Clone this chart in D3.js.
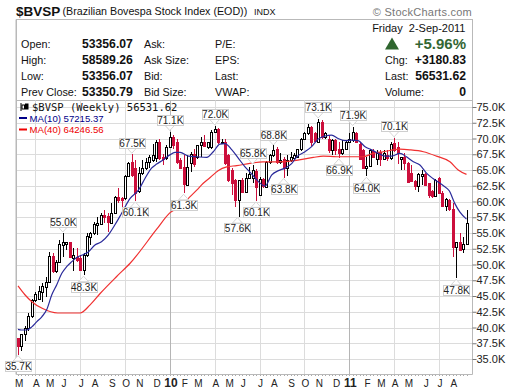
<!DOCTYPE html>
<html><head><meta charset="utf-8">
<script src="https://cdn.jsdelivr.net/npm/d3@7/dist/d3.min.js"></script>
<style>
html,body{margin:0;padding:0;background:#fff}
svg{display:block;font-family:"Liberation Sans",Arial,sans-serif}
</style></head><body>
<svg id="c" width="520" height="391"></svg>
<script>
// Weekly candles, in thousands of index points
const openK=[38.4,37.0,38.9,40.0,41.9,44.4,44.6,45.7,46.4,47.3,
51.3,48.9,50.4,53.1,53.2,53.5,51.1,51.2,51.1,49.1,
51.5,54.4,55,56.3,56.5,57.9,57.7,56.6,58.1,60.65,
60.6,60.5,64.05,66.3,65.3,61.6,64.5,65.3,66.3,66.6,
66.85,69.5,67,66.85,68.7,70.3,69.5,66.6,65.5,62.6,
66.05,67.6,67.1,69,69.5,68.6,68.7,71,71.45,69.3,
69.5,67.4,65,63.4,60.2,63.4,61.55,63.7,63.7,64.9,
61,63.65,62.35,66.3,67.4,68.4,66.3,66.7,65.3,66.6,
66.85,67,68.3,70,70.8,71.8,70.8,69.5,72.55,70.3,
69.85,68.15,69.75,68.3,67.75,68.4,69.5,69.75,70.9,69.2,
68.2,65.3,65.6,68.05,66.7,67.9,66.7,67.4,66.85,69.3,
68.7,66.7,67,66.1,64.5,63.25,62.5,64.05,64.3,62.9,
61.7,60.9,63.8,61.4,59.3,60.25,58.75,52.85,53.5,52.4,53.25];
const closeK=[37,38.9,40,41.9,44.4,45.3,45.85,46.6,47.3,51.35,
48.9,50.4,53.2,53.6,53.5,51.2,51.5,50.7,49.1,51.5,
54.5,55,56.5,56.6,57.9,57.6,56.8,58.1,60.7,60.3,
60.3,64,66.05,64.2,61.4,64.5,65.3,66.3,67,67.4,
69.5,66.85,66.7,68.7,70.3,69,66.3,65.3,62.8,65.5,
67.6,66,69,69.4,68.8,69.4,71.1,71.45,69.5,69.5,
66.05,63.4,63,60.2,63.4,61.55,63.7,64.4,65,62.35,
63.5,62.45,66.3,67.4,68.2,66.3,66.6,65.3,66.6,67.1,
67.4,68.3,70,70.8,71.8,69.5,69.65,72.55,70.3,70.9,
68.2,69.75,68.2,67.75,68.4,69.5,70,71.1,69.5,66.7,
65.3,65.6,68.2,67.1,67.65,66.7,67.65,66.85,69.2,68.2,
67.65,67,66.1,63.05,63.25,62.5,64.3,64.3,62.6,61,
60.9,63.4,61.4,59.3,60.35,58.75,52.85,53.5,52.3,53.25,56.55];
const highK=[38.4,38.9,40.2,42.25,44.6,45.7,46.6,47,48,52,
51.8,50.7,53.9,55,53.6,53.5,52.6,52.6,51.5,51.8,
55,55.2,56.8,57.6,58.1,58.65,58.1,59.7,60.9,62.1,
60.7,64.2,66.3,67.5,66.6,65.5,66.6,66.85,67.4,69.2,
69.8,70,67.6,69,71.1,70.55,70,66.85,67.4,67.4,
67.9,68.4,69,70.3,70.55,69.5,71.35,72,71.6,70,
69.85,67.5,65.25,63.5,63.4,63.7,64.5,65.5,65.8,65.1,
63.9,63.8,66.4,67.6,68.96,68.7,67.65,67.1,67.4,67.9,
67.65,68.4,70.1,71.1,72.3,72,71.1,73.1,72.9,71.1,
70.55,70,70,69.5,69.75,69.75,70.8,71.9,71.1,69.4,
68.4,67.1,68.4,68.4,68.2,68.2,68.2,68.2,69.5,70.1,
69.5,67.1,67.65,66.2,65.8,63.4,64.5,65,64.5,63,
61.8,63.5,63.9,61.6,60.5,60.35,59.7,53.6,55.05,54.3,58.6];
const lowK=[35.7,36.3,37.8,39.5,41.5,44.1,44.4,44.1,44.9,47,
48.6,48.7,50.2,51.2,52.3,51.2,49,50.4,48.9,48.3,
51.2,53.1,54.7,54.7,56.5,56.6,55.2,56.5,58,59.7,
59.2,60.3,63.9,63.9,60.1,61.3,64.2,65,65.3,66.3,
66.3,66.6,65.8,66.6,68.6,68.4,66,65.3,61.3,62.5,
64.7,65.5,66.8,67.1,68.7,68.4,68.4,70.8,69.2,69.2,
65.8,63.1,61.1,59.1,57.6,61.3,61.3,63.5,62.9,60.1,
60.8,62.2,62.2,66,67.1,66,66,63.8,64.05,66.3,
66.6,66.85,68,69.8,70.5,68.8,69.4,69.3,70,70,
67.75,67.4,67.4,66.9,67.4,68.3,69.3,69.5,69.3,66.6,
65.1,64,65.5,66.85,65.8,65.7,66.6,66.5,66.6,67.9,
66,65,65,62.9,63.15,61.9,61.55,62.6,62.45,60.5,
60.5,60.8,61.2,59.2,58.55,58.5,51.15,47.8,52.2,51.8,53.25];

// Moving averages: week index, value
const ma10Weeks=[0,1,2.5,4,5.4,6.9,8.3,9.8,11.2,12.7,14.1,15.6,17,19,20.4,22.3,24.2,26.2,28.1,30,32.5,34.9,36.8,38.7,40.2,42.1,44,45.5,47,49.4,51.8,54.7,56.6,58.5,60,62,63.9,65.8,67.7,69.7,71.6,73.5,75.5,77.4,79.3,80.8,83.2,85.1,87,89,90.9,92.8,94.8,96.7,98.6,100.6,102.5,104.4,106.4,108.3,110.7,112.6,114.6,116.5,118.4,120.4,123.3,125,126.6,128.1,130];
const ma10K=[39.7,39.6,39.6,40.1,40.9,41.7,42.8,45.2,46.75,48.6,49.65,50.45,51.1,51.6,52,53.1,53.6,54.7,56.3,58.1,60.5,61.8,63.65,65.3,65.95,66.6,67.4,67.8,67.8,67.2,67.1,67,67.9,69.1,69.2,68.2,66.85,65.5,64.4,63.15,62.45,64.2,64.9,65.3,66,67.1,67.9,68.7,69.9,70.4,70.55,70,69.65,69.75,69.65,68.7,68.2,67.65,67.2,67.2,67.65,67.1,66.3,65.8,64.5,63.6,62.5,61.7,59.7,58.3,57.2];
const ma40Weeks=[0,2,4,7,11.5,18,20.9,23.8,28.6,32.5,40.2,44,47,49.4,51.8,53.7,55.7,58,60.5,63.4,67.2,71,76,81.5,85.6,88.5,92.4,96.2,100,103,105.9,110.7,113.6,117.5,121.3,125.2,127.6,130];
const ma40K=[46.6,45.2,44.1,43.05,42.3,42.3,43.6,45.4,48.1,50.2,55.6,58.2,59.2,60.5,61.8,62.9,63.8,64.9,65.5,65.7,66.05,66.3,66.3,66.6,67,67.2,67.1,67.1,67.1,67.65,67.9,68.3,68.2,67.9,67.2,66.3,65,64.3];

// Axis labels
const monthWeeks=[0,5,9,13,18,22,27,31,35,40,44,48,52,57,61,65,70,74,79,83,87,92,96,101,105,109,113,118,122,126];
const monthNames=["M","A","M","J","J","A","S","O","N","D","10","F","M","A","M","J","J","A","S","O","N","D","11","F","M","A","M","J","J","A"];
const gridWeeks=[5,18,31,44,57,70,83,96,109,122];
const yearWeeks=[44,96];
const priceTicks=[35,37.5,40,42.5,45,47.5,50,52.5,55,57.5,60,62.5,65,67.5,70,72.5,75];

// Callouts: week, value, side
const calloutWeeks=[0,13,19,33,34,44,48,57,63.6,68,69,74,77,87,93,97,101,109,127];
const calloutValues=[35.7,55.0,48.3,67.5,60.1,71.1,61.3,72.0,57.6,65.8,60.1,68.8,63.8,73.1,66.9,71.9,64.0,70.1,47.8];
const calloutAbove=[0,1,0,1,0,1,0,1,0,1,0,1,0,1,0,1,0,1,0];

// Header table
const headLabels=["Open:","High:","Low:","Prev Close:"];
const headValues=["53356.07","58589.26","53356.07","53350.79"];
const headMid=["Ask:","Ask Size:","Bid:","Bid Size:"];
const headRight=["P/E:","EPS:","Last:","VWAP:"];
const quoteLabels=["Chg:","Last:","Volume:"];
const quoteValues=["+3180.83","56531.62","0"];

const L=16.5,R=472.5,T=100.5,B=374.5,HT=19.5;
const svg=d3.select("#c");
const x=d3.scaleLinear().domain([0,130]).range([18,466.5]);
const y=d3.scaleLinear().domain([35,75]).range([359,107]);
const grey="#b9b9b9";
const snap=v=>Math.round(v)+.5;
function txt(g,px,py,s,size,opt){
  opt=opt||{};
  const t=g.append("text").attr("x",px).attr("y",py).attr("font-size",size)
    .attr("font-weight",opt.bold?"bold":"normal").attr("text-anchor",opt.anchor||"start")
    .attr("fill",opt.fill||"#111").text(s);
  if(opt.family) t.style("font-family",opt.family);
  return t;
}

// Title row
txt(svg,16,15.5,"$BVSP",13.5,{bold:true});
txt(svg,62.5,15,"(Brazilian Bovespa Stock Index (EOD))",10.7);
txt(svg,254,15,"INDX",9);
txt(svg,472,15.5,"© StockCharts.com",11,{anchor:"end",fill:"#777"}).attr("letter-spacing",0.25);

// Header box
svg.append("rect").attr("x",L).attr("y",HT).attr("width",R-L).attr("height",T-HT)
  .attr("fill","#fff").attr("stroke",grey);
const rowY=d3.scalePoint().domain(d3.range(4)).range([48,96]);
headLabels.forEach((s,i)=>txt(svg,21,rowY(i),s,10.8));
headValues.forEach((s,i)=>txt(svg,82,rowY(i),s,12.2,{bold:true}));
headMid.forEach((s,i)=>txt(svg,144,rowY(i),s,10.8));
headRight.forEach((s,i)=>txt(svg,215,rowY(i),s,10.8));
txt(svg,465.5,32,"Friday  2-Sep-2011",11,{anchor:"end"}).style("white-space","pre");
svg.append("path").attr("d",d3.line()([[385,49.5],[392,37.5],[399,49.5]])+"Z").attr("fill","#2f662f");
txt(svg,466,49,"+5.96%",15,{anchor:"end",bold:true,fill:"#336633"});
quoteLabels.forEach((s,i)=>txt(svg,385,rowY(i+1),s,10.8));
quoteValues.forEach((s,i)=>txt(svg,466,rowY(i+1),s,12.2,{anchor:"end",bold:true}));

// Plot frame and grid
const plot=svg.append("g");
plot.append("g").selectAll("line").data(priceTicks).join("line")
  .attr("x1",L).attr("x2",R).attr("y1",d=>snap(y(d))).attr("y2",d=>snap(y(d)))
  .attr("stroke","#dcdcdc");
plot.append("g").selectAll("line").data(gridWeeks).join("line")
  .attr("x1",d=>snap(x(d))).attr("x2",d=>snap(x(d))).attr("y1",T).attr("y2",B)
  .attr("stroke",d=>yearWeeks.includes(d)?"#b5b5b5":"#dcdcdc");
plot.append("path").attr("d",`M${L},${T}V${B}H${R}V${T}`).attr("fill","none").attr("stroke",grey);
plot.append("line").attr("x1",L-.5).attr("x2",L-.5).attr("y1",HT).attr("y2",B).attr("stroke",grey);

// Right price axis
const yAxis=d3.axisRight(y).tickValues(priceTicks).tickSize(4).tickPadding(0)
  .tickFormat(d=>d3.format(".1f")(d)+"K");
const ya=svg.append("g").attr("transform",`translate(${R},0)`).call(yAxis);
ya.attr("font-family",null).attr("font-size",11);
ya.select(".domain").remove();
ya.selectAll("line").attr("stroke","#777");
ya.selectAll("text").attr("font-size",11).attr("fill","#222");

// Bottom month axis
const xAxis=d3.axisBottom(x).tickValues(monthWeeks).tickSize(0).tickPadding(0)
  .tickFormat((d,i)=>monthNames[i]);
const xa=svg.append("g").attr("transform",`translate(0.6,378)`).call(xAxis);
xa.attr("font-family",null);
xa.select(".domain").remove();
xa.selectAll("text").attr("font-size",d=>yearWeeks.includes(d)?12:10)
  .attr("font-weight",d=>yearWeeks.includes(d)?"bold":"normal")
  .attr("fill","#222").attr("dy",null).attr("y",9);
svg.append("g").selectAll("line").data(d3.range(0,131)).join("line")
  .attr("x1",d=>snap(x(d))).attr("x2",d=>snap(x(d)))
  .attr("y1",B+.5).attr("y2",B+1.5).attr("stroke","#aaa");

// Candles
const weeks=d3.range(openK.length);
const isDown=i=>closeK[i]<openK[i];
const red="#cc0f3c";
const candles=svg.append("g");
candles.selectAll("line").data(weeks).join("line")
  .attr("x1",i=>snap(x(i))).attr("x2",i=>snap(x(i)))
  .attr("y1",i=>Math.round(y(highK[i]))).attr("y2",i=>Math.round(y(lowK[i])))
  .attr("stroke",i=>isDown(i)?red:"#000");
candles.selectAll("rect").data(weeks).join("rect")
  .attr("x",i=>Math.round(x(i))-.5).attr("width",2)
  .attr("y",i=>snap(y(Math.max(openK[i],closeK[i]))))
  .attr("height",i=>Math.max(1,snap(y(Math.min(openK[i],closeK[i])))-snap(y(Math.max(openK[i],closeK[i])))))
  .attr("fill",i=>isDown(i)?red:"#fff")
  .attr("stroke",i=>isDown(i)?red:"#000");

// Moving averages
const line=d3.line().curve(d3.curveMonotoneX);
svg.append("path").attr("d",line(ma40Weeks.map((w,i)=>[x(w),y(ma40K[i])])))
  .attr("fill","none").attr("stroke","#f03030").attr("stroke-width",1.2);
svg.append("path").attr("d",line(ma10Weeks.map((w,i)=>[x(w),y(ma10K[i])])))
  .attr("fill","none").attr("stroke","#2a2a9a").attr("stroke-width",1.2);

// Callouts
const co=svg.append("g");
calloutWeeks.forEach((w,i)=>{
  const cx=x(w),py=y(calloutValues[i]),up=calloutAbove[i];
  const s=d3.format(".1f")(calloutValues[i])+"K";
  const by=up?py-16.5:py+6.5,bw=26,bh=10;
  const tipY=up?py-1:py+1,baseY=up?by+bh:by;
  co.append("path").attr("d",d3.line()([[cx-5,baseY],[cx,tipY],[cx+5,baseY]])+"Z")
    .attr("fill","#fff").attr("stroke","#d6d6d6");
  co.append("rect").attr("x",Math.round(cx-bw/2)+.5).attr("y",Math.round(by)+.5).attr("width",bw).attr("height",bh)
    .attr("fill","#fff").attr("stroke","#cfcfcf");
  txt(co,cx+.5,Math.round(by)+9,s,10,{anchor:"middle",fill:"#222"});
});

// Legend
const lg=svg.append("g");
lg.append("line").attr("x1",21).attr("x2",21).attr("y1",103).attr("y2",111).attr("stroke","#000");
lg.append("rect").attr("x",22).attr("y",105).attr("width",2.5).attr("height",4).attr("fill","#fff").attr("stroke","#000");
lg.append("rect").attr("x",25.5).attr("y",104).attr("width",2.5).attr("height",5).attr("fill","#000").attr("stroke","#000");
txt(lg,32,111,"$BVSP (Weekly) 56531.62",10.5,{family:'"DejaVu Sans Mono",monospace'});
lg.append("line").attr("x1",19).attr("x2",27).attr("y1",118).attr("y2",118).attr("stroke","#000088").attr("stroke-width",2);
txt(lg,29.5,122,"MA(10) 57215.37",9.6,{fill:"#000088"});
lg.append("line").attr("x1",19).attr("x2",27).attr("y1",129.5).attr("y2",129.5).attr("stroke","#ee0000").attr("stroke-width",2);
txt(lg,29.5,133,"MA(40) 64246.56",9.6,{fill:"#ee0000"});
</script>
</body></html>
